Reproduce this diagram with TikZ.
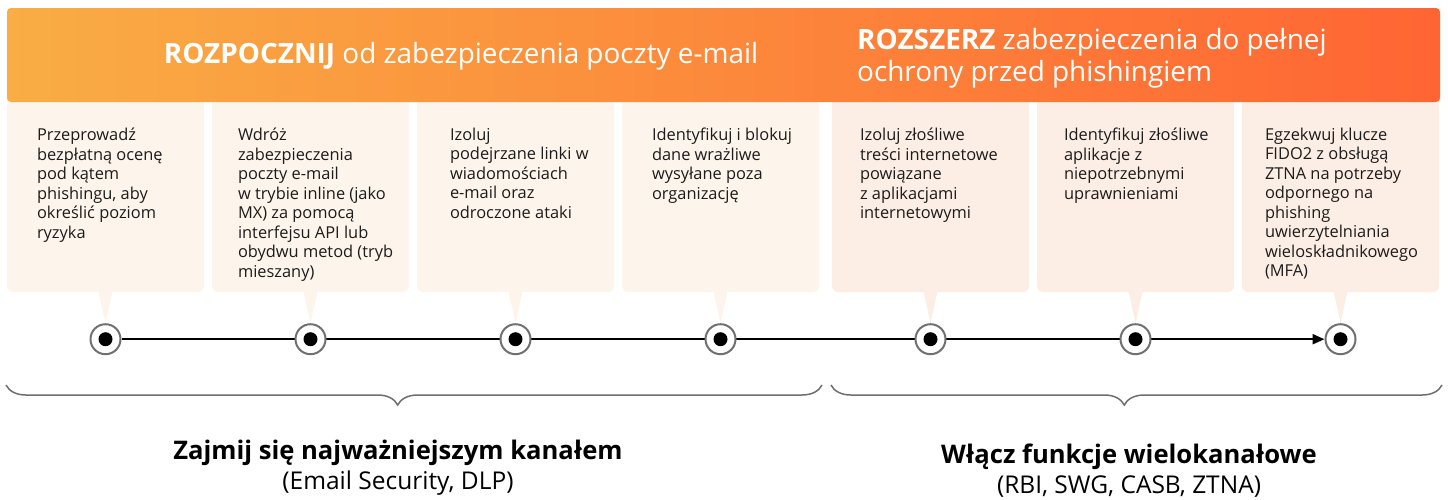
\documentclass[tikz,border=0pt]{standalone}
\usepackage{fontspec}
\setmainfont{Open Sans}
\usetikzlibrary{arrows.meta,positioning,decorations.pathreplacing,backgrounds}

\definecolor{hdrA}{HTML}{F9AD44}
\definecolor{hdrB}{HTML}{FF6533}
\definecolor{cardA}{HTML}{FDF5EC}
\definecolor{cardB}{HTML}{FDEEE5}
\definecolor{ringgray}{HTML}{707070}
\definecolor{bracegray}{HTML}{6E6E6E}
\definecolor{txt}{HTML}{1C1C1C}

\begin{document}
\begin{tikzpicture}[
  x=1pt, y=-1pt,
  card/.style={rectangle, rounded corners=6pt, minimum width=197pt, minimum height=202pt, inner sep=0pt},
  cardtext/.style={anchor=north west, inner sep=0pt, align=left, text=txt, font=\fontsize{16.4}{19.5}\selectfont},
  header/.style={rectangle, rounded corners=4pt, minimum width=1433pt, minimum height=94pt, left color=hdrA, right color=hdrB},
  hdrtext/.style={text=white, inner sep=0pt, font=\fontsize{27.9}{32}\selectfont},
  marker/.style={circle, draw=ringgray, line width=2pt, fill=white, minimum size=30pt, inner sep=0pt,
    path picture={\fill[black] (path picture bounding box.center) circle[radius=7pt];}},
  groupbrace/.style={draw=bracegray, line width=1.5pt, decorate, decoration={brace, amplitude=20pt, aspect=0.52}},
  grouplabel/.style={align=center, text=black, font=\fontsize{24.5}{30}\selectfont},
  >=Latex, node distance=31pt
]
\useasboundingbox (0,0) rectangle (1448,499);

% Cards
\node[card, fill=cardA] (b1) at (105.5,191) {};
\node[card, fill=cardA] (b2) at (310.5,191) {};
\node[card, fill=cardA] (b3) at (515.5,191) {};
\node[card, fill=cardA] (b4) at (720.5,191) {};
\node[card, fill=cardB] (b5) at (930.5,191) {};
\node[card, fill=cardB] (b6) at (1135.5,191) {};
\node[card, fill=cardB] (b7) at (1340.5,191) {};

% Card texts
\node[cardtext] (t1) at ([xshift=30pt,yshift=-38pt]b1.north west) {Przeprowadź\\bezpłatną ocenę\\pod kątem\\phishingu, aby\\określić poziom\\ryzyka};
\node[cardtext] (t2) at ([xshift=26pt,yshift=-38pt]b2.north west) {Wdróż\\zabezpieczenia\\poczty e-mail\\w trybie inline (jako\\MX) za pomocą\\interfejsu API lub\\obydwu metod (tryb\\mieszany)};
\node[cardtext] (t3) at ([xshift=33pt,yshift=-38pt]b3.north west) {Izoluj\\podejrzane linki w\\wiadomościach\\e-mail oraz\\odroczone ataki};
\node[cardtext] (t4) at ([xshift=30pt,yshift=-38pt]b4.north west) {Identyfikuj i blokuj\\dane wrażliwe\\wysyłane poza\\organizację};
\node[cardtext] (t5) at ([xshift=28pt,yshift=-38pt]b5.north west) {Izoluj złośliwe\\treści internetowe\\powiązane\\z aplikacjami\\internetowymi};
\node[cardtext] (t6) at ([xshift=27pt,yshift=-38pt]b6.north west) {Identyfikuj złośliwe\\aplikacje z\\niepotrzebnymi\\uprawnieniami};
\node[cardtext] (t7) at ([xshift=23pt,yshift=-38pt]b7.north west) {Egzekwuj klucze\\FIDO2 z obsługą\\ZTNA na potrzeby\\odpornego na\\phishing\\uwierzytelniania\\wieloskładnikowego\\(MFA)};

% Header
\node[header] (hdr) at (723.5,55) {};
\node[hdrtext] (hl) at (461,56) {\textbf{ROZPOCZNIJ} od zabezpieczenia poczty e-mail};
\node[hdrtext, anchor=west, align=left] (hr) at (857,58) {\textbf{ROZSZERZ} zabezpieczenia do pełnej\\ochrony przed phishingiem};

% Timeline markers
\node[marker, below=of b1] (d1) {};
\node[marker, below=of b2] (d2) {};
\node[marker, below=of b3] (d3) {};
\node[marker, below=of b4] (d4) {};
\node[marker, below=of b5] (d5) {};
\node[marker, below=of b6] (d6) {};
\node[marker, below=of b7] (d7) {};

% Pointers
\fill[cardA] ([xshift=-7pt,yshift=1pt]b1.south) -- ([xshift=7pt,yshift=1pt]b1.south) -- (d1.north) -- cycle;
\fill[cardA] ([xshift=-7pt,yshift=1pt]b2.south) -- ([xshift=7pt,yshift=1pt]b2.south) -- (d2.north) -- cycle;
\fill[cardA] ([xshift=-7pt,yshift=1pt]b3.south) -- ([xshift=7pt,yshift=1pt]b3.south) -- (d3.north) -- cycle;
\fill[cardA] ([xshift=-7pt,yshift=1pt]b4.south) -- ([xshift=7pt,yshift=1pt]b4.south) -- (d4.north) -- cycle;
\fill[cardB] ([xshift=-7pt,yshift=1pt]b5.south) -- ([xshift=7pt,yshift=1pt]b5.south) -- (d5.north) -- cycle;
\fill[cardB] ([xshift=-7pt,yshift=1pt]b6.south) -- ([xshift=7pt,yshift=1pt]b6.south) -- (d6.north) -- cycle;
\fill[cardB] ([xshift=-7pt,yshift=1pt]b7.south) -- ([xshift=7pt,yshift=1pt]b7.south) -- (d7.north) -- cycle;

% Timeline line
\begin{scope}[on background layer]
\draw[line width=2pt, -{Triangle[length=12pt,width=10pt]}] (d1) -- (d7);
\end{scope}

% Braces
\coordinate (lbA) at (822,385);
\coordinate (lbB) at (6,385);
\coordinate (rbA) at (1442,385);
\coordinate (rbB) at (831,385);
\draw[groupbrace] (lbA) -- (lbB);
\draw[groupbrace] (rbA) -- (rbB);

% Group labels
\node[grouplabel] (gl) at (398,468) {{\fontsize{25.6}{30}\selectfont\bfseries Zajmij się najważniejszym kanałem}\\(Email Security, DLP)};
\node[grouplabel] (gr) at (1129,471) {{\fontsize{25.6}{30}\selectfont\bfseries Włącz funkcje wielokanałowe}\\(RBI, SWG, CASB, ZTNA)};

\end{tikzpicture}
\end{document}
